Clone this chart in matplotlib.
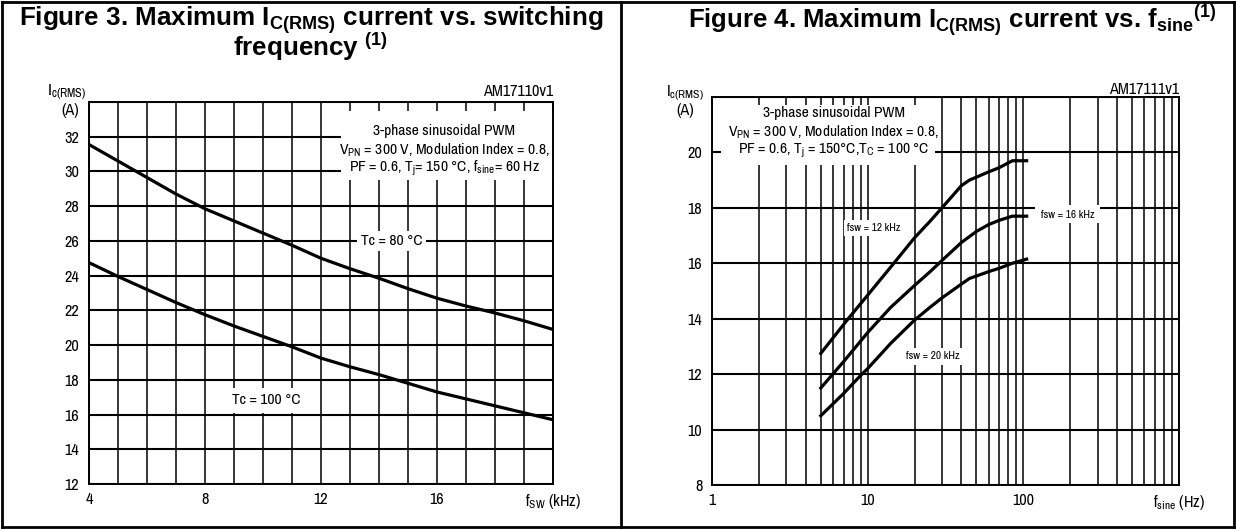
import matplotlib
matplotlib.use('Agg')
import matplotlib.pyplot as plt
from matplotlib.patches import Rectangle
from matplotlib.lines import Line2D
from matplotlib.ticker import FixedLocator, NullFormatter
import matplotlib.font_manager as fm

names = {f.name for f in fm.fontManager.ttflist}
NARROW = 'Liberation Sans'
for cand in ['Liberation Sans Narrow', 'Arial Narrow', 'Archivo Narrow', 'PT Sans Narrow',
             'Roboto Condensed', 'Asap Condensed']:
    if cand in names:
        NARROW = cand
        break
plt.rcParams['font.family'] = [NARROW, 'DejaVu Sans']

# ---------------- data ----------------
fsw_khz = [4, 5, 6, 7, 8, 9, 10, 11, 12, 13, 14, 15, 16, 17, 18, 19, 20]
ic_tc80 = [31.55, 30.6, 29.65, 28.7, 27.85, 27.15, 26.45, 25.75, 25.0, 24.4,
           23.85, 23.25, 22.7, 22.25, 21.85, 21.4, 20.9]
ic_tc100 = [24.75, 23.95, 23.2, 22.45, 21.75, 21.1, 20.5, 19.9, 19.25, 18.75,
            18.3, 17.8, 17.3, 16.9, 16.5, 16.1, 15.7]

fsine_fsw12 = [5, 7.5, 10, 14, 20, 25, 30, 40, 45, 60, 70, 85, 105]
ic_fsw12 = [12.75, 14.0, 14.85, 15.85, 16.92, 17.5, 18.0, 18.8, 19.0, 19.3, 19.45, 19.7, 19.7]
fsine_fsw16 = [5, 7, 10, 14, 20, 25, 30, 40, 50, 60, 70, 85, 105]
ic_fsw16 = [11.5, 12.45, 13.5, 14.4, 15.2, 15.68, 16.1, 16.75, 17.15, 17.4, 17.55, 17.7, 17.7]
fsine_fsw20 = [5, 7, 9, 10, 14, 20, 25, 30, 40, 45, 60, 70, 85, 105]
ic_fsw20 = [10.5, 11.3, 11.95, 12.2, 13.1, 13.95, 14.4, 14.75, 15.25, 15.45, 15.7, 15.82, 16.0, 16.15]

left_xticks = list(range(4, 21))
left_xlabels = ['4', '', '', '', '8', '', '', '', '12', '', '', '', '16', '', '', '',
                r'$\mathregular{f_{SW}}$ (kHz)']
left_yticks = list(range(12, 35, 2))
left_ylabels = ['12', '14', '16', '18', '20', '22', '24', '26', '28', '30', '32', '']

right_major = [1, 10, 100, 1000]
right_xlabels = ['1', '10', '100', r'$\mathregular{f_{sine}}$ (Hz)']
right_minor = [m * d for d in (1, 10, 100) for m in range(2, 10)]
right_yticks = list(range(8, 23, 2))
right_ylabels = ['8', '10', '12', '14', '16', '18', '20', '']

W, H = 1236, 529
fig = plt.figure(figsize=(W / 100, H / 100), dpi=100)


def fx(px):
    return px / W


def fy(py):
    return 1 - py / H


ax1 = fig.add_axes([fx(89), fy(484), (553 - 89) / W, (484 - 102) / H])
ax2 = fig.add_axes([fx(712), fy(485), (1179 - 712) / W, (485 - 97) / H])

TS = 11.2   # annotation text size
LS = 11.7   # tick label size


def style_axes(ax):
    ax.set_axisbelow(True)
    for s in ax.spines.values():
        s.set_linewidth(1.4)
        s.set_color('black')
    ax.tick_params(which='both', length=0, labelsize=LS, colors='black')
    ax.tick_params(axis='x', pad=6)
    ax.tick_params(axis='y', pad=7)


# ---------------- Figure 3 ----------------
ax1.set_xlim(4, 20)
ax1.set_ylim(12, 34)
ax1.set_xticks(left_xticks)
ax1.set_xticklabels(left_xlabels)
ax1.set_yticks(left_yticks)
ax1.set_yticklabels(left_ylabels)
ax1.xaxis.grid(True, color='black', lw=1.1)
ax1.yaxis.grid(True, color='black', lw=1.5)
style_axes(ax1)

ax1.plot(fsw_khz, ic_tc80, color='black', lw=2.3, zorder=4)
ax1.plot(fsw_khz, ic_tc100, color='black', lw=2.3, zorder=4)

ax1.add_patch(Rectangle((12.7, 29.5), 20 - 12.7, 33.5 - 29.5, facecolor='white',
                        edgecolor='none', zorder=1))
ax1.add_patch(Rectangle((13.25, 25.4), 15.63 - 13.25, 26.55 - 25.4, facecolor='white',
                        edgecolor='none', zorder=1))
ax1.add_patch(Rectangle((8.75, 16.1), 11.41 - 8.75, 17.55 - 16.1, facecolor='white',
                        edgecolor='none', zorder=1))

tkw = dict(ha='center', va='center', fontsize=TS, zorder=3)
ax1.text(16.25, 32.34, '3-phase sinusoidal PWM', **tkw)
ax1.text(16.25, 31.23, r'$\mathregular{V_{PN}}$ = 300 V, Modulation Index = 0.8,', **tkw)
ax1.text(16.25, 30.17, r'PF = 0.6, $\mathregular{T_{j}}$= 150 °C, $\mathregular{f_{sine}}$= 60 Hz', **tkw)
ax1.text(14.45, 25.97, 'Tc = 80 °C', **tkw)
ax1.text(10.12, 16.84, 'Tc = 100 °C', **tkw)

# ---------------- Figure 4 ----------------
ax2.set_xscale('log')
ax2.set_xlim(1, 1000)
ax2.set_ylim(8, 22)
ax2.xaxis.set_major_locator(FixedLocator(right_major))
ax2.xaxis.set_minor_locator(FixedLocator(right_minor))
ax2.xaxis.set_minor_formatter(NullFormatter())
ax2.set_xticklabels(right_xlabels)
ax2.set_yticks(right_yticks)
ax2.set_yticklabels(right_ylabels)
ax2.xaxis.grid(True, which='both', color='black', lw=1.1)
ax2.yaxis.grid(True, color='black', lw=1.5)
style_axes(ax2)

ax2.plot(fsine_fsw12, ic_fsw12, color='black', lw=2.3, zorder=4)
ax2.plot(fsine_fsw16, ic_fsw16, color='black', lw=2.3, zorder=4)
ax2.plot(fsine_fsw20, ic_fsw20, color='black', lw=2.3, zorder=4)

ax2.add_patch(Rectangle((1.15, 19.55), 26.9 - 1.15, 21.7 - 19.55, facecolor='white',
                        edgecolor='none', zorder=1))
ax2.add_patch(Rectangle((7.0, 16.97), 17 - 7.0, 17.56 - 16.97, facecolor='white',
                        edgecolor='none', zorder=1))
ax2.add_patch(Rectangle((119, 17.44), 311 - 119, 18.1 - 17.44, facecolor='white',
                        edgecolor='none', zorder=1))
ax2.add_patch(Rectangle((16.8, 12.34), 40.4 - 16.8, 12.94 - 12.34, facecolor='white',
                        edgecolor='none', zorder=1))

ax2.text(6.07, 21.44, '3-phase sinusoidal PWM', **tkw)
ax2.text(6.07, 20.74, r'$\mathregular{V_{PN}}$ = 300 V, Modulation Index = 0.8,', **tkw)
ax2.text(6.07, 20.05, r'PF = 0.6, $\mathregular{T_{j}}$ = 150°C,$\mathregular{T_{C}}$ = 100 °C', **tkw)
skw = dict(ha='center', va='center', fontsize=8.2, zorder=3)
ax2.text(11.0, 17.29, 'fsw = 12 kHz', **skw)
ax2.text(192, 17.74, 'fsw = 16 kHz', **skw)
ax2.text(26.4, 12.64, 'fsw = 20 kHz', **skw)

# ---------------- axis captions ----------------
fig.text(fx(67), fy(92), r'$\mathregular{I_{c(RMS)}}$', ha='center', va='center', fontsize=12.5)
fig.text(fx(70), fy(111), '(A)', ha='center', va='center', fontsize=LS)
fig.text(fx(553), fy(92), 'AM17110v1', ha='right', va='center', fontsize=LS)

fig.text(fx(685), fy(93), r'$\mathregular{I_{c(RMS)}}$', ha='center', va='center', fontsize=12)
fig.text(fx(685), fy(110), '(A)', ha='center', va='center', fontsize=LS)
fig.text(fx(1179), fy(89), 'AM17111v1', ha='right', va='center', fontsize=LS)

# ---------------- titles ----------------
TFONT = ['Liberation Sans', 'DejaVu Sans']
fig.text(fx(311), fy(4),
         'Figure 3. Maximum $\\mathregular{I_{C(RMS)}}$ current vs. switching\n'
         'frequency $\\mathregular{^{(1)}}$',
         ha='center', va='top', multialignment='center', linespacing=0.8,
         fontsize=18.7, weight='bold', family=TFONT)
fig.text(fx(952), fy(20), r'Figure 4. Maximum $\mathregular{I_{C(RMS)}}$ current vs. $\mathregular{f_{sine}}$$\mathregular{^{(1)}}$',
         ha='center', va='center', fontsize=18.5, weight='bold', family=TFONT)

# ---------------- frame ----------------
for (x0, y0, x1, y1) in [(2, 2, 1234, 2), (2, 527, 1234, 527), (2, 2, 2, 527),
                         (1234, 2, 1234, 527), (621, 2, 621, 527)]:
    fig.add_artist(Line2D([fx(x0), fx(x1)], [fy(y0), fy(y1)], color='black', lw=2.0))

fig.savefig('out.png', dpi=100, facecolor='white')
